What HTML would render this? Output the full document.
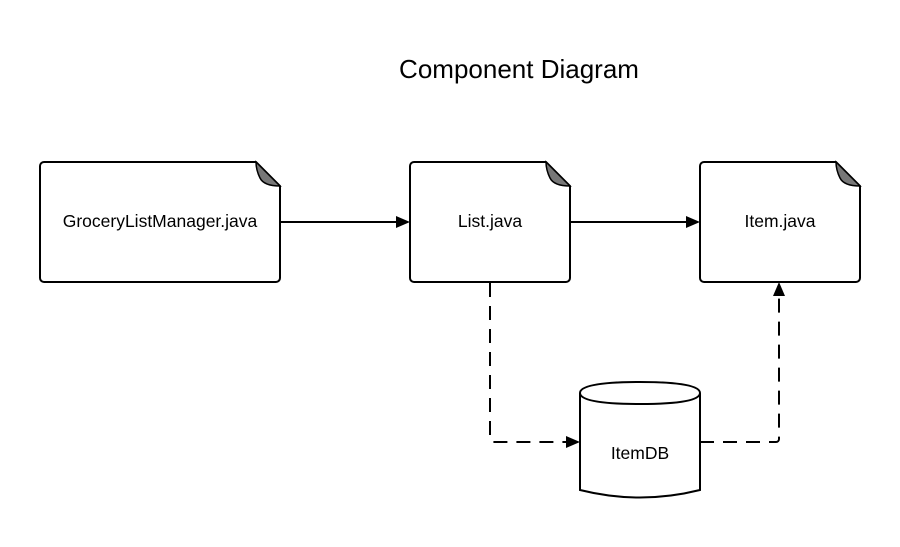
<!DOCTYPE html>
<html><head><style>body{margin:0;background:#fff}</style></head><body>
<svg width="900" height="542" xmlns="http://www.w3.org/2000/svg" font-family="Liberation Sans, sans-serif">
<rect width="900" height="542" fill="#fff"/>
<text x="519" y="78" font-size="26" text-anchor="middle">Component Diagram</text>
<g fill="#fff" stroke="#000" stroke-width="2">
<path d="M44,162 H256 L280,186 V278 a4,4 0 0 1 -4,4 H44 a4,4 0 0 1 -4,-4 V166 a4,4 0 0 1 4,-4Z"/>
<path d="M414,162 H546 L570,186 V278 a4,4 0 0 1 -4,4 H414 a4,4 0 0 1 -4,-4 V166 a4,4 0 0 1 4,-4Z"/>
<path d="M704,162 H836 L860,186 V278 a4,4 0 0 1 -4,4 H704 a4,4 0 0 1 -4,-4 V166 a4,4 0 0 1 4,-4Z"/>
</g>
<g fill="#777" stroke="#000" stroke-width="1.5">
<path d="M256,162 L280,186 Q264,186 260,178 Q256,170 256,162Z"/>
<path d="M546,162 L570,186 Q554,186 550,178 Q546,170 546,162Z"/>
<path d="M836,162 L860,186 Q844,186 840,178 Q836,170 836,162Z"/>
</g>
<g font-size="17.5" text-anchor="middle">
<text x="160" y="227">GroceryListManager.java</text>
<text x="490" y="227">List.java</text>
<text x="780" y="227">Item.java</text>
<text x="640" y="459">ItemDB</text>
</g>
<g stroke="#000" stroke-width="2" fill="none">
<line x1="280" y1="222" x2="396" y2="222"/>
<line x1="570" y1="222" x2="686" y2="222"/>
<path d="M490,283 V439 a3,3 0 0 0 3,3 H568" stroke-dasharray="14,9"/>
<path d="M700,442 H776 a3,3 0 0 0 3,-3 V296" stroke-dasharray="14,9"/>
<path d="M580,393 V490 Q640,505 700,490 V393"/>
</g>
<path d="M580,393 Q580,382 640,382 Q700,382 700,393 Q700,404 640,404 Q580,404 580,393Z" fill="#fff" stroke="#000" stroke-width="2"/>
<g fill="#000">
<polygon points="396,216 410,222 396,228"/>
<polygon points="686,216 700,222 686,228"/>
<polygon points="566,436 580,442 566,448"/>
<polygon points="773,296 779,282 785,296"/>
</g>
</svg>
</body></html>
